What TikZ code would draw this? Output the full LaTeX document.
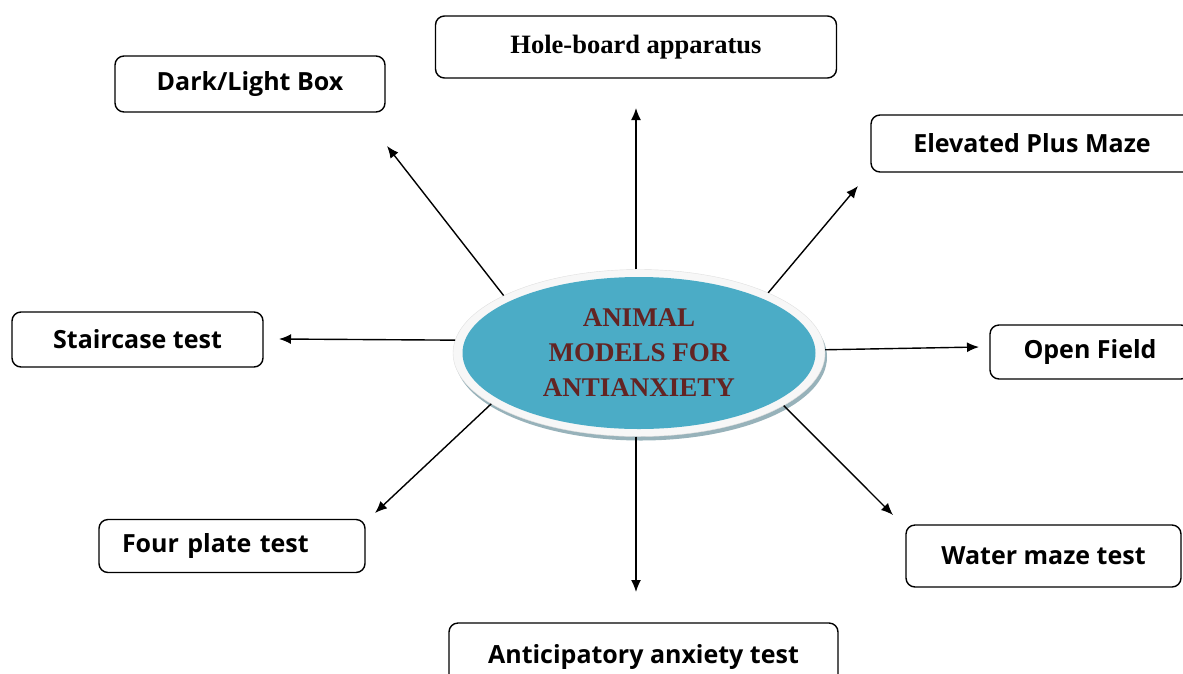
\documentclass[tikz,border=0pt]{standalone}
\usepackage{fontspec}
\setmainfont{Liberation Serif}
\newfontfamily\boxfont{Open Sans}
\usepackage{tikz}
\usetikzlibrary{shapes.geometric,shadows,arrows.meta}
\definecolor{aqua}{HTML}{4BACC6}
\definecolor{maroon}{HTML}{632423}

\begin{document}
\begin{tikzpicture}[x=1pt,y=-1pt,
	model/.style={draw,line width=1.4pt,rounded corners=9pt,inner sep=0pt,
		font=\boxfont\bfseries\fontsize{25}{30}\selectfont},
	link/.style={line width=1.4pt,-{Latex[length=12pt,width=10pt]}}]
	\useasboundingbox (0,0) rectangle (1183,673);
	% centre
	\node[ellipse,minimum width=372pt,minimum height=167pt,inner sep=0pt,
		fill=gray!6,draw=gray!25,
		drop shadow={shadow xshift=2pt,shadow yshift=-4pt,fill=aqua!40!gray,opacity=.7},
		path picture={\fill[aqua] (path picture bounding box.center) ellipse (176.5pt and 76pt);},
		align=center,text=maroon,font=\bfseries\fontsize{27}{35}\selectfont]
		(core) at (639,353) {ANIMAL\\MODELS FOR\\ANTIANXIETY};
	% models
	\node[model,minimum width=401pt,minimum height=62pt,font=\bfseries\fontsize{26.5}{30}\selectfont] (hole) at (636,47) {Hole-board apparatus};
	\node[model,minimum width=270pt,minimum height=56pt] (dark) at (250,84) {Dark/Light Box};
	\node[model,minimum width=322pt,minimum height=57pt] (elev) at (1032,143.5) {Elevated Plus Maze};
	\node[model,minimum width=251pt,minimum height=55pt] (stair) at (137.5,339.5) {Staircase test};
	\node[model,minimum width=200pt,minimum height=54pt] (open) at (1090,352) {Open Field};
	\node[model,minimum height=53pt,text width=220pt,inner xsep=23pt,align=left] (four) at (232,546) {Four plate test};
	\node[model,minimum width=275pt,minimum height=62pt] (water) at (1043.5,556) {Water maze test};
	\node[model,minimum width=389pt,minimum height=67pt] (antic) at (643.5,656.5) {Anticipatory anxiety test};
	% arrow ends
	\coordinate (tohole) at (636,108);
	\coordinate (todark) at (387,146);
	\coordinate (toelev) at (858,186);
	\coordinate (tostair) at (279,339);
	\coordinate (toopen) at (979,347);
	\coordinate (tofour) at (375,513);
	\coordinate (towater) at (893,515);
	\coordinate (toantic) at (636,592);
	\draw[link] (tohole |- core.north) -- (tohole);
	\draw[link] (core.157) -- (todark);
	\draw[link] (core.25) -- (toelev);
	\draw[link] (core.176) -- (tostair);
	\draw[link] (core.1.5) -- (toopen);
	\draw[link] (core.199) -- (tofour);
	\draw[link] (core.-20) -- (towater);
	\draw[link] (toantic |- core.south) -- (toantic);
\end{tikzpicture}
\end{document}
